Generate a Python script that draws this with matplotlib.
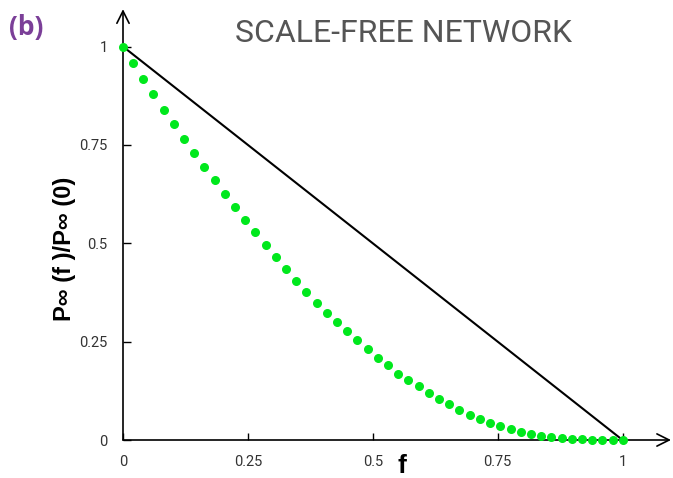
import matplotlib
matplotlib.use('Agg')
import matplotlib.pyplot as plt

# fraction of removed nodes f and relative giant component size
f_vals = [0, 0.02, 0.041, 0.061, 0.082, 0.102, 0.122, 0.143, 0.163, 0.184,
          0.204, 0.224, 0.245, 0.265, 0.286, 0.306, 0.327, 0.347, 0.367, 0.388,
          0.408, 0.429, 0.449, 0.469, 0.49, 0.51, 0.531, 0.551, 0.571, 0.592,
          0.612, 0.633, 0.653, 0.673, 0.694, 0.714, 0.735, 0.755, 0.776, 0.796,
          0.816, 0.837, 0.857, 0.878, 0.898, 0.918, 0.939, 0.959, 0.98, 1.0]
p_vals = [1.0, 0.959, 0.917, 0.880, 0.840, 0.802, 0.766, 0.730, 0.694, 0.660,
          0.626, 0.593, 0.560, 0.528, 0.496, 0.466, 0.435, 0.405, 0.376, 0.348,
          0.323, 0.299, 0.277, 0.253, 0.231, 0.209, 0.190, 0.169, 0.152, 0.136,
          0.119, 0.104, 0.091, 0.076, 0.064, 0.053, 0.044, 0.036, 0.027, 0.020,
          0.016, 0.011, 0.008, 0.005, 0.003, 0.002, 0.001, 0.001, 0.0, 0.0]
line_x = [0, 1]
line_y = [1, 0]
ticks = [0, 0.25, 0.5, 0.75, 1]
tick_labels = ['0', '0.25', '0.5', '0.75', '1']

fig = plt.figure(figsize=(6.73, 4.78), dpi=100)
ax = fig.add_axes([123 / 673, 38 / 478, 550 / 673, 432 / 478])
ax.set_xlim(0, 1.101)
ax.set_ylim(0, 1.098)

for s in ['top', 'right', 'left', 'bottom']:
    ax.spines[s].set_visible(False)

# axes with open arrow heads
ax.annotate('', xy=(1.097, 0), xytext=(0, 0),
            arrowprops=dict(arrowstyle='->', lw=1.2, color='black',
                            mutation_scale=22, shrinkA=0, shrinkB=0))
ax.annotate('', xy=(0, 1.095), xytext=(0, 0),
            arrowprops=dict(arrowstyle='->', lw=1.2, color='black',
                            mutation_scale=22, shrinkA=0, shrinkB=0))

ax.plot(line_x, line_y, color='black', lw=1.5, zorder=2)
ax.scatter(f_vals, p_vals, s=30, color='#00e81c', zorder=3, clip_on=False)

ax.set_xticks(ticks)
ax.set_xticklabels(tick_labels)
ax.set_yticks(ticks)
ax.set_yticklabels(tick_labels)
ax.tick_params(axis='x', direction='in', length=5, width=1, pad=11,
               labelsize=10.5, labelcolor='#333333')
ax.tick_params(axis='y', direction='in', length=6, width=1, pad=11,
               labelsize=10.5, labelcolor='#333333')
for lab in ax.get_xticklabels() + ax.get_yticklabels():
    lab.set_family('Roboto')

# axis titles
fig.text(402 / 673, 1 - 466 / 478, 'f', fontsize=19, fontweight='bold',
         family='Liberation Sans', ha='center', va='center')
fig.text(65 / 673, 1 - 249 / 478, 'P\u221e (f )/P\u221e (0)',
         fontsize=17, fontweight='bold',
         family=['Liberation Sans', 'DejaVu Sans'],
         rotation=90, ha='center', va='center')

fig.text(235 / 673, 1 - 33 / 478, 'SCALE-FREE NETWORK', fontsize=23,
         color='#555555', family='Roboto', ha='left', va='center')
fig.text(9 / 673, 1 - 27 / 478, '(b)', fontsize=19, fontweight='bold',
         color='#7b3f98', family='Open Sans', va='center')

fig.savefig('out.png', dpi=100)
